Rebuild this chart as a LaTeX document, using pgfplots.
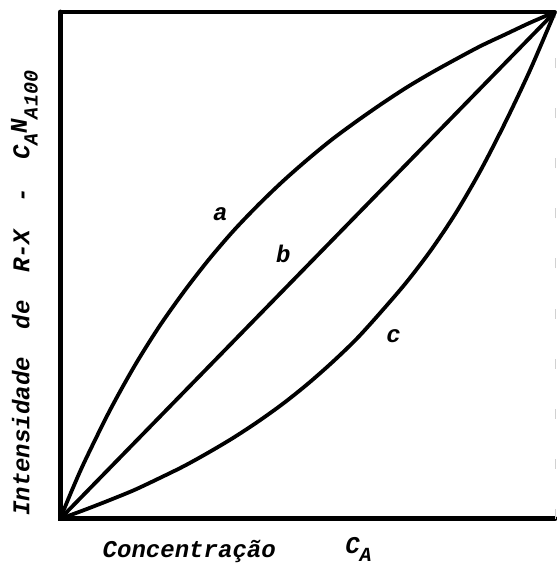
\documentclass[border=0pt]{standalone}
\usepackage{pgfplots}
\pgfplotsset{compat=1.18}
\usepackage{fontspec}
\setmainfont{Liberation Mono}
\newcommand{\gap}{\hspace{1.15em}}
\newcommand{\sub}[1]{\raisebox{-0.35em}{\fontsize{20}{20}\selectfont #1}}
\begin{document}
\begin{tikzpicture}
\begin{axis}[
  scale only axis,
  width=494pt, height=506pt,
  xmin=0, xmax=1, ymin=0, ymax=1,
  axis line style={draw=none},
  ticks=none,
  clip=false,
  every axis plot/.append style={line width=3.8pt, black, line cap=round, line join=round},
  font=\fontsize{24}{28}\selectfont\bfseries\itshape,
]
% frame: left, bottom and top heavy; right edge only faintly inked
\draw[line width=4.8pt, line cap=round] (rel axis cs:0,1) -- (rel axis cs:0,0) -- (rel axis cs:1,0);
\draw[line width=4.8pt] (rel axis cs:0,1) -- (rel axis cs:1,1);
\draw[line width=0.8pt, black!18, dash pattern=on 10pt off 40pt] (rel axis cs:1,0) -- (rel axis cs:1,1);

% curve a (concave)
\addplot[smooth] coordinates {
  (0,0) (0.025,0.059) (0.05,0.114) (0.10,0.213) (0.15,0.301) (0.20,0.379)
  (0.25,0.448) (0.30,0.511) (0.35,0.568) (0.40,0.619) (0.45,0.666)
  (0.50,0.709) (0.55,0.749) (0.60,0.785) (0.65,0.819) (0.70,0.851)
  (0.75,0.880) (0.80,0.907) (0.85,0.933) (0.90,0.956) (0.95,0.979) (1,1)
};
% curve b (linear)
\addplot[] coordinates {(0,0) (1,1)};
% curve c (convex)
\addplot[smooth] coordinates {
  (0,0) (0.05,0.018) (0.10,0.037) (0.15,0.057) (0.20,0.080) (0.25,0.104)
  (0.30,0.131) (0.35,0.160) (0.40,0.192) (0.45,0.227) (0.50,0.266)
  (0.55,0.309) (0.60,0.356) (0.65,0.410) (0.70,0.467) (0.75,0.531)
  (0.80,0.604) (0.85,0.688) (0.90,0.783) (0.95,0.886) (1,1)
};

\node at (axis cs:0.324,0.601) {a};
\node at (axis cs:0.451,0.522) {b};
\node at (axis cs:0.674,0.360) {c};

\node at (rel axis cs:0.261,-0.065) {Concentração};
\node at (rel axis cs:0.603,-0.060) {C\sub{A}};
\node[rotate=90] at (rel axis cs:-0.072,0.445)
  {Intensidade\gap de\gap R-X\gap -\gap C\sub{A}\raisebox{0.1em}{N}\sub{A100}};
\end{axis}
\pgfresetboundingbox
\useasboundingbox ([shift={(-60pt,-59pt)}]current axis.south west)
  rectangle ([shift={(2pt,12pt)}]current axis.north east);
\end{tikzpicture}
\end{document}
